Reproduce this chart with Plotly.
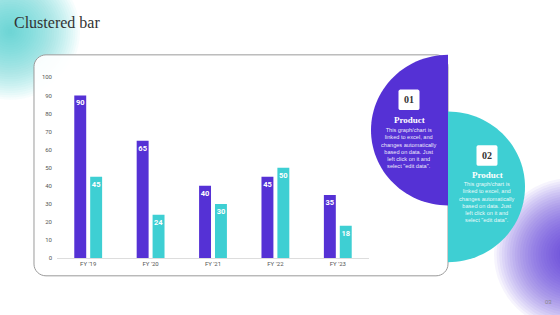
import math
import plotly.graph_objects as go

W, H = 560, 315

categories = ["FY '19", "FY '20", "FY '21", "FY '22", "FY '23"]
series1 = [90, 65, 40, 45, 35]
series2 = [45, 24, 30, 50, 18]
y_ticks = [0, 10, 20, 30, 40, 50, 60, 70, 80, 90, 100]

PURPLE = "#5531D5"
TEAL = "#3ECFD3"

def px(x):
    return x / W

def py(y):
    return 1 - y / H

fig = go.Figure()
for vals, col in [(series1, PURPLE), (series2, TEAL)]:
    fig.add_trace(go.Bar(x=categories, y=vals, marker_color=col, text=vals,
                         texttemplate="<b>%{text}</b>",
                         textposition="inside", insidetextanchor="end", textangle=0,
                         textfont=dict(color="white", size=7.5, family="Roboto"),
                         marker_line_width=0))

shapes = []

def glow(cx, cy, rmax, color, n=30, op=0.06):
    for i in range(n):
        r = rmax * (1 - i / n)
        shapes.append(dict(type="circle", xref="paper", yref="paper",
                           x0=px(cx - r), x1=px(cx + r), y0=py(cy + r), y1=py(cy - r),
                           fillcolor=color, opacity=op, line=dict(width=0), layer="below"))

glow(10, 28, 70, "#3ECFD3", n=30, op=0.045)
glow(572, 256, 78, "#5531D5", n=30, op=0.05)

def rrect(x0, y0, x1, y1, r):
    pts = []
    for (cx, cy, a0) in [(x1 - r, y0 + r, -90), (x1 - r, y1 - r, 0), (x0 + r, y1 - r, 90), (x0 + r, y0 + r, 180)]:
        for k in range(9):
            a = math.radians(a0 + k * 90 / 8)
            pts.append((cx + r * math.cos(a), cy + r * math.sin(a)))
    return "M " + " L ".join(f"{px(x):.5f},{py(y):.5f}" for x, y in pts) + " Z"

shapes.append(dict(type="path", xref="paper", yref="paper", path=rrect(34, 52, 448, 278, 12),
                   fillcolor="rgba(255,255,255,0.92)", line=dict(color="#9a9a9a", width=1), layer="below"))

def half(cx, cy, r, side):
    pts = []
    for k in range(61):
        a = math.radians(90 + k * 3) if side == "left" else math.radians(-90 + k * 3)
        pts.append((cx + r * math.cos(a), cy + r * math.sin(a)))
    return "M " + " L ".join(f"{px(x):.5f},{py(y):.5f}" for x, y in pts) + " Z"

shapes.append(dict(type="path", xref="paper", yref="paper", path=half(448, 129, 77, "left"),
                   fillcolor=PURPLE, line=dict(width=0)))
shapes.append(dict(type="path", xref="paper", yref="paper", path=half(448, 187, 77, "right"),
                   fillcolor=TEAL, line=dict(width=0)))

for (bx, by) in [(409, 98), (487, 155)]:
    shapes.append(dict(type="path", xref="paper", yref="paper", path=rrect(bx - 10.5, by - 10.5, bx + 10.5, by + 10.5, 2),
                       fillcolor="white", line=dict(width=0)))

annotations = []
annotations.append(dict(text="Clustered bar", x=px(12), y=py(19), xref="paper", yref="paper",
                        xanchor="left", yanchor="middle", showarrow=False,
                        font=dict(family="Liberation Serif", size=16, color="#333333")))
annotations.append(dict(text="03", x=px(548), y=py(305), xref="paper", yref="paper",
                        xanchor="center", yanchor="middle", showarrow=False,
                        font=dict(family="Liberation Sans", size=6, color="#888888")))

body = "This graph/chart is<br>linked to excel, and<br>changes automatically<br>based on data. Just<br>left click on it and<br>select \"edit data\"."
for (num, cx, by, ty, ly) in [("01", 409, 98, 119, 147), ("02", 487, 155, 175, 203)]:
    annotations.append(dict(text=f"<b>{num}</b>", x=px(cx), y=py(by), xref="paper", yref="paper",
                            showarrow=False, xanchor="center", yanchor="middle",
                            font=dict(family="Liberation Serif", size=10, color="#333333")))
    annotations.append(dict(text="<b>Product</b>", x=px(cx), y=py(ty), xref="paper", yref="paper",
                            showarrow=False, xanchor="center", yanchor="middle",
                            font=dict(family="Liberation Serif", size=9, color="white")))
    annotations.append(dict(text=body, x=px(cx), y=py(ly), xref="paper", yref="paper",
                            showarrow=False, xanchor="center", yanchor="middle", align="center",
                            font=dict(family="Liberation Sans", size=5.6, color="rgba(255,255,255,0.92)")))

fig.update_layout(
    width=W, height=H, autosize=False,
    margin=dict(l=0, r=0, t=0, b=0),
    paper_bgcolor="white", plot_bgcolor="rgba(0,0,0,0)",
    showlegend=False,
    barmode="group", bargap=0.49, bargroupgap=0.25,
    uniformtext=dict(minsize=7, mode="show"),
    xaxis=dict(domain=[px(57), px(369)], showgrid=False, showline=True, linecolor="#dddddd",
               linewidth=1, ticks="", tickfont=dict(family="Roboto", size=6, color="#555555")),
    yaxis=dict(domain=[py(260), py(75)], range=[0, 100], tickvals=y_ticks, showgrid=False,
               zeroline=False, showline=False, ticks="", ticklabelstandoff=4,
               tickfont=dict(family="Roboto", size=6, color="#555555")),
    shapes=shapes, annotations=annotations,
)

fig.write_html("out.html")
